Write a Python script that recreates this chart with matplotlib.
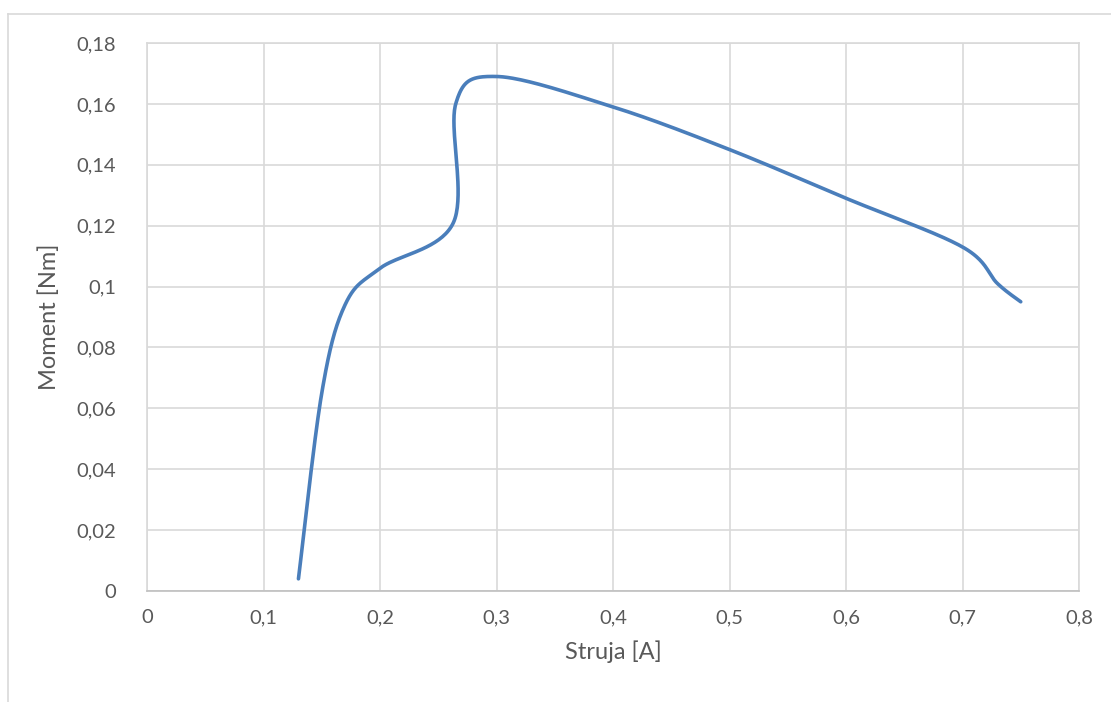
import numpy as np
import matplotlib
matplotlib.use("Agg")
import matplotlib.pyplot as plt
from matplotlib.ticker import FuncFormatter

# measured points (current [A], torque [Nm])
struja = [0.13, 0.15, 0.17, 0.20, 0.263, 0.265, 0.30, 0.40, 0.50, 0.60, 0.70, 0.73, 0.75]
moment = [0.004, 0.065, 0.094, 0.106, 0.121, 0.160, 0.169, 0.159, 0.145, 0.129, 0.113, 0.101, 0.095]

x_ticks = [0, 0.1, 0.2, 0.3, 0.4, 0.5, 0.6, 0.7, 0.8]
y_ticks = [0, 0.02, 0.04, 0.06, 0.08, 0.1, 0.12, 0.14, 0.16, 0.18]


def excel_smooth(xs, ys, n=40):
    # bezier through the points, control points like Excel's smoothed line
    p = np.column_stack([xs, ys])
    out = [p[0]]
    for i in range(len(p) - 1):
        p0 = p[i - 1] if i > 0 else p[i]
        p1, p2 = p[i], p[i + 1]
        p3 = p[i + 2] if i + 2 < len(p) else p[i + 1]
        c1 = p1 + (p2 - p0) / 6
        c2 = p2 - (p3 - p1) / 6
        t = np.linspace(0, 1, n)[1:, None]
        seg = ((1 - t) ** 3 * p1 + 3 * (1 - t) ** 2 * t * c1
               + 3 * (1 - t) * t ** 2 * c2 + t ** 3 * p2)
        out.extend(seg)
    out = np.array(out)
    return out[:, 0], out[:, 1]


plt.rcParams['font.family'] = ['Lato', 'DejaVu Sans']

fig = plt.figure(figsize=(11.11, 7.02), dpi=100)
ax = fig.add_axes([147 / 1111, 1 - 591 / 702, 932 / 1111, 548 / 702])

sx, sy = excel_smooth(struja, moment)
ax.plot(sx, sy, color="#4a7ebb", lw=2.6, solid_capstyle="round", zorder=3)

ax.set_xlim(0, 0.8)
ax.set_ylim(0, 0.18)
ax.set_xticks(x_ticks)
ax.set_yticks(y_ticks)
fmt = FuncFormatter(lambda v, pos: ("%g" % round(v, 3)).replace(".", ","))
ax.xaxis.set_major_formatter(fmt)
ax.yaxis.set_major_formatter(fmt)
ax.tick_params(length=0, labelsize=14.5, colors="#595959")
ax.tick_params(axis="y", pad=22)
ax.tick_params(axis="x", pad=13)
ax.grid(True, color="#d9d9d9", lw=1.2)
ax.set_axisbelow(True)
for s in ax.spines.values():
    s.set_color("#d9d9d9")
    s.set_linewidth(1.2)
ax.spines["bottom"].set_color("#bfbfbf")

ax.set_xlabel("Struja [A]", fontsize=17, color="#595959", labelpad=10)
ax.set_ylabel("Moment [Nm]", fontsize=17, color="#595959", labelpad=12)

# outer chart border (only left and top edges fall inside the image)
fig.add_artist(plt.Line2D([7.5 / 1111, 7.5 / 1111], [0, 1 - 13.5 / 702],
                          color="#d9d9d9", lw=1.2))
fig.add_artist(plt.Line2D([7.5 / 1111, 1], [1 - 13.5 / 702, 1 - 13.5 / 702],
                          color="#d9d9d9", lw=1.2))

fig.savefig("out.png", dpi=100)
